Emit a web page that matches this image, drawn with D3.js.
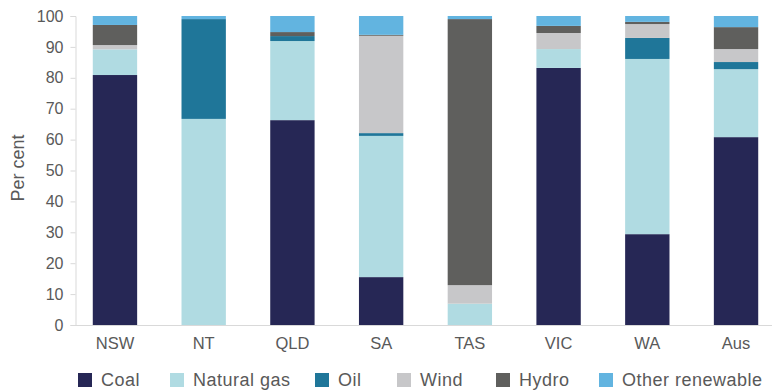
<!DOCTYPE html>
<html>
<head>
<meta charset="utf-8">
<script src="https://cdn.jsdelivr.net/npm/d3@7"></script>
<style>
  body { margin: 0; background: #fff; }
  svg text { font-family: "Liberation Sans", Arial, sans-serif; fill: #595959; }
</style>
</head>
<body>
<div id="chart"></div>
<script>
// states, then each fuel share (per cent)
var states = ["NSW", "NT", "QLD", "SA", "TAS", "VIC", "WA", "Aus"];
var fuels = ["Coal", "Natural gas", "Oil", "Wind", "Hydro", "Other renewable"];
var coal   = [80.9, 0,    66.3, 15.5, 0,    83.2, 29.4, 60.8];
var gas    = [8.3,  66.7, 25.6, 45.7, 6.9,  6.1,  56.7, 22.0];
var oil    = [0,    32.3, 1.6,  0.9,  0,    0,    6.8,  2.3];
var wind   = [1.4,  0,    0,    31.5, 6.0,  5.2,  4.5,  4.2];
var hydro  = [6.5,  0,    1.3,  0.3,  86.1, 2.3,  0.7,  7.1];
var other  = [2.9,  1.0,  5.2,  6.1,  1.0,  3.2,  1.9,  3.6];
var yTicks = [0, 10, 20, 30, 40, 50, 60, 70, 80, 90, 100];
var colors = ["#262755", "#b0dbe2", "#1f7699", "#c7c7c9", "#5f5f5d", "#62b4e0"];

var width = 773, height = 390;
var svg = d3.select("#chart").append("svg")
    .attr("width", width)
    .attr("height", height);

var series = [coal, gas, oil, wind, hydro, other];
var rows = states.map(function (s, i) {
    var r = { state: s };
    fuels.forEach(function (f, j) { r[f] = series[j][i]; });
    return r;
});
var stacked = d3.stack().keys(fuels)(rows);

var x = d3.scaleBand()
    .domain(states)
    .range([70.6, 780.4])
    .paddingInner(0.5)
    .paddingOuter(0.25);

var y = d3.scaleLinear()
    .domain([0, 100])
    .range([325, 16]);

var color = d3.scaleOrdinal().domain(fuels).range(colors);

// bars
svg.append("g")
  .selectAll("g")
  .data(stacked)
  .enter().append("g")
    .attr("fill", function (d) { return color(d.key); })
  .selectAll("rect")
  .data(function (d) { return d; })
  .enter().append("rect")
    .attr("x", function (d) { return x(d.data.state); })
    .attr("y", function (d) { return y(d[1]); })
    .attr("width", x.bandwidth())
    .attr("height", function (d) { return y(d[0]) - y(d[1]); });

// y axis
var yAxis = svg.append("g")
    .attr("transform", "translate(75.5,0)")
    .call(d3.axisLeft(y).tickValues(yTicks).tickSize(5).tickPadding(7));
yAxis.select(".domain").attr("stroke", "#d9d9d9");
yAxis.selectAll(".tick line").attr("stroke", "#d9d9d9");
yAxis.selectAll("text")
    .style("font-size", "16px")
    .attr("fill", "#595959");

// x axis
var xAxis = svg.append("g")
    .attr("transform", "translate(0,325.5)")
    .call(d3.axisBottom(x).tickSize(0).tickPadding(12));
xAxis.select(".domain").remove();
xAxis.selectAll("text")
    .style("font-size", "16.5px")
    .attr("fill", "#595959");
svg.append("line")
    .attr("x1", 71).attr("x2", 772)
    .attr("y1", 325.5).attr("y2", 325.5)
    .attr("stroke", "#d9d9d9");

svg.append("text")
    .attr("transform", "translate(24,168) rotate(-90)")
    .style("text-anchor", "middle")
    .style("font-size", "18px")
    .text("Per cent");

// legend
var legendX = [101, 193, 338, 420, 519, 622];
var legend = svg.append("g").selectAll("g")
    .data(fuels)
    .enter().append("g")
    .attr("transform", function (d, i) { return "translate(" + legendX[i] + ",0)"; });
legend.append("rect")
    .attr("x", -23).attr("y", 373)
    .attr("width", 14).attr("height", 14)
    .attr("fill", function (d) { return color(d); });
legend.append("text")
    .attr("x", 0).attr("y", 386)
    .style("font-size", "18px")
    .style("letter-spacing", "0.5px")
    .text(function (d) { return d; });
</script>
</body>
</html>
